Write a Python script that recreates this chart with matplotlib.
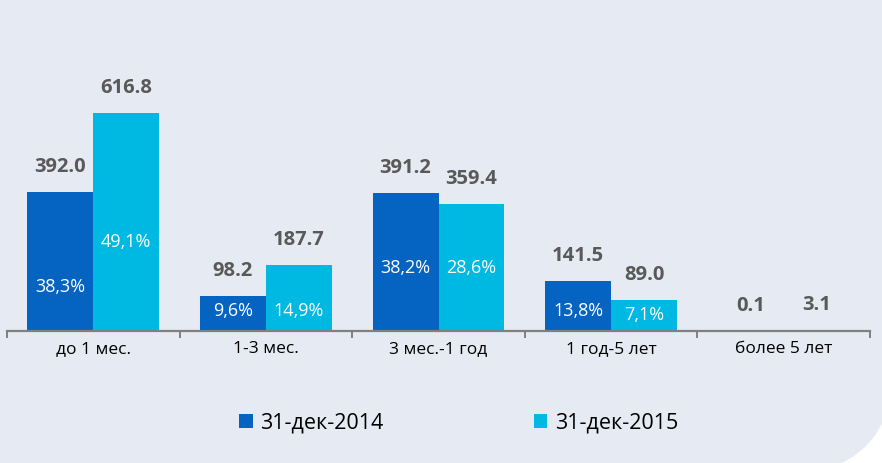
import matplotlib.pyplot as plt
from matplotlib.patches import FancyBboxPatch, Patch
import numpy as np

categories = ["до 1 мес.", "1-3 мес.", "3 мес.-1 год", "1 год-5 лет", "более 5 лет"]
series_names = ["31-дек-2014", "31-дек-2015"]
values_2014 = [392.0, 98.2, 391.2, 141.5, 0.1]
values_2015 = [616.8, 187.7, 359.4, 89.0, 3.1]
share_2014 = ["38,3%", "9,6%", "38,2%", "13,8%", ""]
share_2015 = ["49,1%", "14,9%", "28,6%", "7,1%", ""]

# where the white share labels sit inside the bars (data units)
share_y_2014 = [124, 57, 178, 57, 0]
share_y_2015 = [252, 57, 178, 45, 0]

c14 = "#0563C1"
c15 = "#00B9E3"
bg = "#E6EAF2"
plt.rcParams['font.family'] = ['Open Sans', 'DejaVu Sans']

fig = plt.figure(figsize=(8.82, 4.63), dpi=100)
fig.patch.set_facecolor("white")
# grey panel with rounded bottom-right corner
panel = FancyBboxPatch((-300, -12), 1195, 800, boxstyle="round,pad=0,rounding_size=116",
                       transform=None, facecolor=bg, edgecolor="none", zorder=-5)
fig.patches.append(panel)

ax = fig.add_axes([7/882, 0.2851, 863/882, 0.5343])
ax.set_facecolor("none")
x = np.arange(len(categories))
w = 0.382
ax.bar(x - w/2, values_2014, w, color=c14)
ax.bar(x + w/2, values_2015, w, color=c15)

for xs, vals in ((x - w/2, values_2014), (x + w/2, values_2015)):
    for xi, v in zip(xs, vals):
        ax.annotate(f"{v:.1f}", (xi, v), xytext=(0, 18), textcoords="offset points",
                    ha="center", va="center", fontsize=14.5, fontweight="bold", color="#595959")

for xs, labs, ys in ((x - w/2, share_2014, share_y_2014), (x + w/2, share_2015, share_y_2015)):
    for xi, lab, yy in zip(xs, labs, ys):
        if lab:
            ax.text(xi, yy, lab, ha="center", va="center", fontsize=13, color="white")

ax.set_xlim(-0.5, len(categories) - 0.5)
ax.set_ylim(0, 700)
ax.set_yticks([])
for s in ("left", "right", "top"):
    ax.spines[s].set_visible(False)
ax.spines["bottom"].set_color("#808080")
ax.spines["bottom"].set_linewidth(1.6)
ax.set_xticks(np.arange(len(categories) + 1) - 0.5)
ax.set_xticklabels([])
ax.tick_params(axis="x", which="major", length=5, width=1.4, color="#808080", direction="out")
ax.set_xticks(x, minor=True)
ax.set_xticklabels(categories, minor=True, fontsize=12.5, color="black")
ax.tick_params(axis="x", which="minor", length=0, pad=7)

handles = [Patch(facecolor=c14), Patch(facecolor=c15)]
fig.legend(handles, series_names, loc="center", bbox_to_anchor=(0.52, 0.086), ncol=2,
           frameon=False, fontsize=15.5, handlelength=0.62, handleheight=0.62,
           handletextpad=0.35, columnspacing=7.0)

fig.savefig("out.png", dpi=100, facecolor=fig.get_facecolor())
